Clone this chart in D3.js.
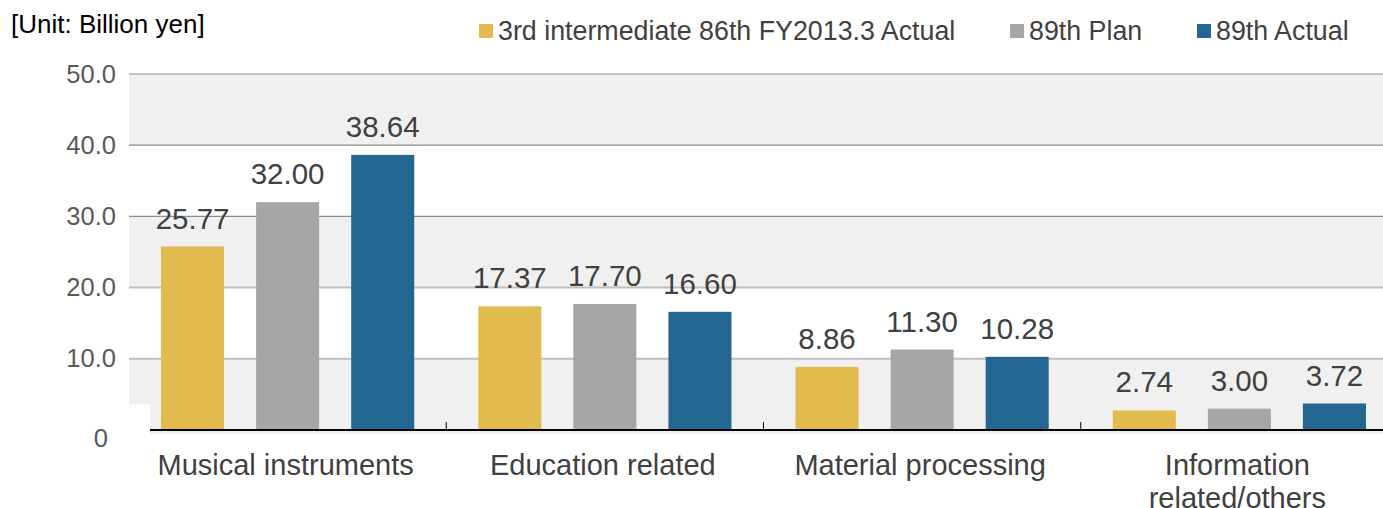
<!DOCTYPE html>
<html>
<head>
<meta charset="utf-8">
<script src="https://cdn.jsdelivr.net/npm/d3@7"></script>
<style>
  body { margin: 0; background: #fff; }
  svg { display: block; font-family: "Liberation Sans", Arial, sans-serif; }
</style>
</head>
<body>
<svg id="chart" width="1383" height="508"></svg>
<script>
var categories = ["Musical instruments", "Education related", "Material processing", "Information\nrelated/others"];
var seriesNames = ["3rd intermediate 86th FY2013.3 Actual", "89th Plan", "89th Actual"];
var seriesColors = ["#E1BB4E", "#A6A6A6", "#236692"];
var actual86 = [25.77, 17.37, 8.86, 2.74];
var plan89 = [32.00, 17.70, 11.30, 3.00];
var actual89 = [38.64, 16.60, 10.28, 3.72];
var yTicks = [0, 10, 20, 30, 40, 50];

var svg = d3.select("#chart");
var plotLeft = 129, plotRight = 1398, plotTop = 74, plotBottom = 430;

var x0 = d3.scaleBand().domain(categories).range([plotLeft, plotRight]);
var x1 = d3.scaleBand().domain([0, 1, 2]).range([0, x0.bandwidth()]).padding(0.337);
var y = d3.scaleLinear().domain([0, 50]).range([plotBottom, plotTop]);

var series = [actual86, plan89, actual89];

// alternating background bands
var bands = [[40, 50], [20, 30], [0, 10]];
svg.append("g").selectAll("rect")
  .data(bands)
  .enter().append("rect")
  .attr("x", plotLeft)
  .attr("width", 1383 - plotLeft)
  .attr("y", function(d) { return y(d[1]); })
  .attr("height", function(d) { return y(d[0]) - y(d[1]) + (d[0] === 0 ? 4 : 0); })
  .attr("fill", "#f0f0f0");

// white notch at the bottom left
svg.append("rect")
  .attr("x", plotLeft).attr("y", y(3.6))
  .attr("width", 150 - plotLeft).attr("height", plotBottom - y(3.6) + 5)
  .attr("fill", "#fff");

// gridlines
svg.append("g").selectAll("line")
  .data(yTicks.filter(function(d) { return d > 0; }))
  .enter().append("line")
  .attr("x1", plotLeft).attr("x2", 1383)
  .attr("y1", function(d) { return y(d); })
  .attr("y2", function(d) { return y(d); })
  .attr("stroke", function(d) { return d >= 30 ? "#8c8c8c" : "#bfbfbf"; })
  .attr("stroke-width", function(d) { return d >= 30 ? 1.2 : 2; });

// y axis labels
var yAxis = svg.append("g")
  .attr("transform", "translate(" + plotLeft + ",0)")
  .call(d3.axisLeft(y).tickValues(yTicks).tickSize(0).tickPadding(13)
    .tickFormat(function(d) { return d === 0 ? "0" : d.toFixed(1); }));
yAxis.select(".domain").remove();
yAxis.selectAll("text")
  .attr("font-size", "25.5px")
  .attr("fill", "#595959")
  .attr("font-family", "Liberation Sans, Arial, sans-serif")
  .attr("transform", function(d) { return d === 0 ? "translate(-8,8)" : null; });

// bars
var groups = svg.append("g").selectAll("g")
  .data(categories)
  .enter().append("g")
  .attr("transform", function(d) { return "translate(" + x0(d) + ",0)"; });

groups.selectAll("rect")
  .data(function(d, i) { return series.map(function(s, j) { return { k: j, v: s[i] }; }); })
  .enter().append("rect")
  .attr("x", function(d) { return x1(d.k); })
  .attr("width", x1.bandwidth())
  .attr("y", function(d) { return y(d.v); })
  .attr("height", function(d) { return plotBottom - y(d.v); })
  .attr("fill", function(d) { return seriesColors[d.k]; });

groups.selectAll("text.val")
  .data(function(d, i) { return series.map(function(s, j) { return { k: j, v: s[i] }; }); })
  .enter().append("text")
  .attr("class", "val")
  .attr("x", function(d) { return x1(d.k) + x1.bandwidth() / 2; })
  .attr("y", function(d) { return y(d.v) - 18; })
  .attr("text-anchor", "middle")
  .attr("font-size", "29.5px")
  .attr("fill", "#404040")
  .text(function(d) { return d.v.toFixed(2); });

// x axis
svg.append("line")
  .attr("x1", 150).attr("x2", 1383)
  .attr("y1", plotBottom).attr("y2", plotBottom)
  .attr("stroke", "#000").attr("stroke-width", 2);

svg.append("g").selectAll("line")
  .data(categories.slice(1))
  .enter().append("line")
  .attr("x1", function(d) { return x0(d); })
  .attr("x2", function(d) { return x0(d); })
  .attr("y1", plotBottom - 8).attr("y2", plotBottom)
  .attr("stroke", "#000").attr("stroke-width", 1);

// category labels
var catLabels = svg.append("g").selectAll("text")
  .data(categories)
  .enter().append("text")
  .attr("x", function(d) { return x0(d) + x0.bandwidth() / 2 - 2; })
  .attr("y", 475)
  .attr("text-anchor", "middle")
  .attr("font-size", "29px")
  .attr("fill", "#404040");

catLabels.each(function(d) {
  var lines = d.split("\n");
  var t = d3.select(this);
  var cx = t.attr("x");
  lines.forEach(function(l, i) {
    t.append("tspan").attr("x", cx).attr("dy", i === 0 ? 0 : 33).text(l);
  });
});

// unit label
svg.append("text")
  .attr("x", 11).attr("y", 33)
  .attr("font-size", "26px")
  .attr("fill", "#000")
  .text("[Unit: Billion yen]");

// legend
var legendX = [479, 1010, 1197];
var legend = svg.append("g").selectAll("g")
  .data(seriesNames)
  .enter().append("g")
  .attr("transform", function(d, i) { return "translate(" + legendX[i] + ",0)"; });
legend.append("rect")
  .attr("x", 0).attr("y", 24).attr("width", 14).attr("height", 14)
  .attr("fill", function(d, i) { return seriesColors[i]; });
legend.append("text")
  .attr("x", 19).attr("y", 40)
  .attr("font-size", "26.8px")
  .attr("fill", "#404040")
  .text(function(d) { return d; });
</script>
</body>
</html>
